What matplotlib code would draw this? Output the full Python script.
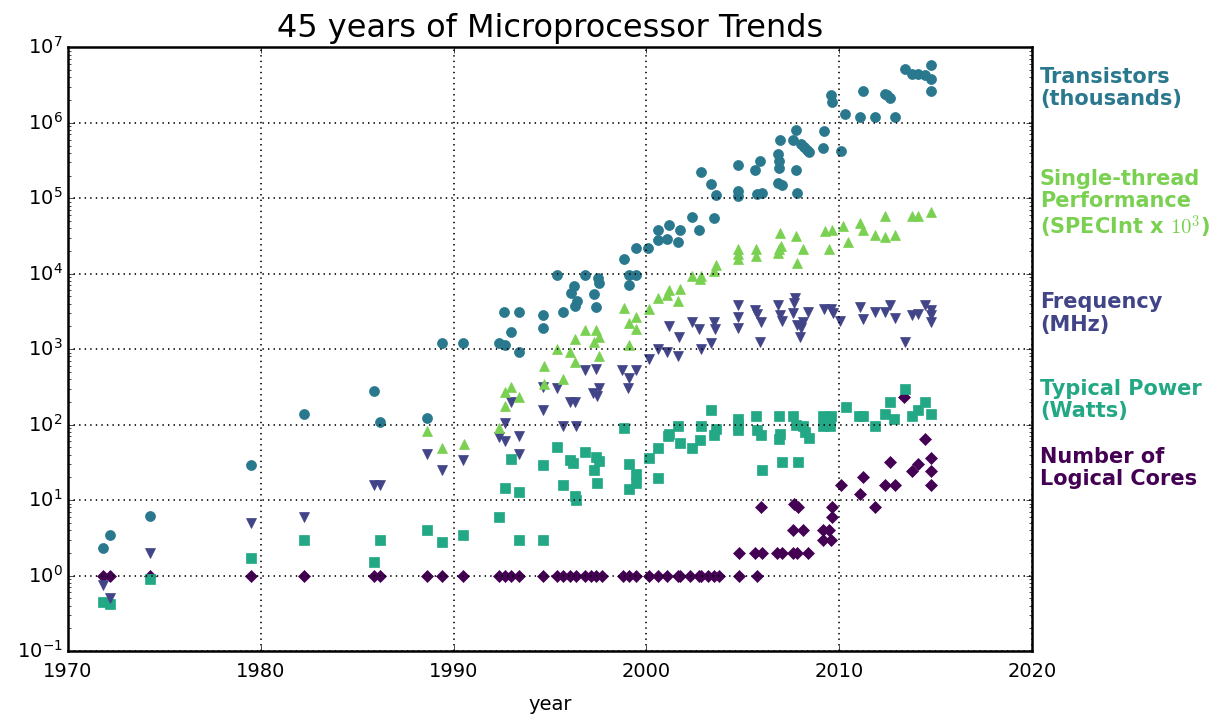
import matplotlib.pyplot as plt
import matplotlib.ticker as mticker

# (year, value)
transistors = [
    (1971.8, 2.3), (1972.2, 3.5), (1974.25, 6.1), (1979.5, 29), (1982.25, 137),
    (1985.85, 275), (1986.2, 110), (1988.6, 123), (1989.4, 1200), (1990.5, 1200),
    (1992.35, 1200), (1992.65, 1120), (1993.4, 930), (1992.6, 3100), (1993.4, 3100),
    (1993.0, 1700), (1994.65, 2800), (1994.65, 1900), (1995.65, 3100), (1995.35, 9700),
    (1996.3, 3700), (1996.27, 6800), (1996.1, 5500), (1996.4, 4400), (1996.8, 9700),
    (1997.5, 8900), (1997.55, 7500), (1997.3, 5400), (1997.4, 3600), (1998.85, 15500),
    (1999.45, 21700), (2000.1, 22000), (1999.1, 9500), (1999.45, 9500), (1999.1, 7000),
    (2000.6, 38000), (2000.6, 28000), (2001.15, 44000), (2001.05, 29000), (2001.75, 37500),
    (2001.65, 26000), (2002.35, 56000), (2002.75, 38000), (2003.5, 55000), (2002.85, 220000),
    (2003.35, 155000), (2003.6, 110000), (2004.75, 275000), (2004.75, 126000), (2004.75, 108000),
    (2005.65, 235000), (2005.9, 310000), (2005.75, 115000), (2006.0, 117000), (2006.85, 390000),
    (2006.95, 590000), (2006.9, 310000), (2006.9, 250000), (2006.85, 160000), (2007.05, 150000),
    (2007.6, 590000), (2007.75, 810000), (2007.75, 240000), (2007.8, 117000), (2008.0, 525000),
    (2008.15, 475000), (2008.35, 430000), (2008.45, 405000), (2009.2, 790000), (2009.15, 470000),
    (2009.6, 2340000), (2009.65, 1900000), (2010.1, 420000), (2010.3, 1320000), (2011.25, 2600000),
    (2011.1, 1200000), (2011.85, 1200000), (2012.35, 2400000), (2012.5, 2300000), (2012.65, 2100000),
    (2012.9, 1200000), (2013.4, 5100000), (2013.75, 4400000), (2014.1, 4400000), (2014.45, 4300000),
    (2014.75, 5900000), (2014.75, 3800000), (2014.75, 2600000),
]

single_thread = [
    (1988.6, 82), (1989.4, 49), (1990.55, 55), (1992.35, 91), (1992.65, 175),
    (1992.65, 270), (1993.0, 315), (1993.4, 235), (1994.7, 590), (1994.7, 345),
    (1995.65, 405), (1995.35, 1020), (1996.05, 930), (1996.3, 1360), (1996.3, 670),
    (1996.8, 1800), (1997.4, 1770), (1997.55, 1450), (1997.3, 1260), (1997.55, 820),
    (1998.85, 3500), (1999.1, 2250), (1999.45, 2700), (1999.45, 1850), (1999.1, 1150),
    (2000.15, 3400), (2000.6, 4800), (2001.15, 6100), (2001.05, 5300), (2001.75, 6300),
    (2001.65, 4300), (2002.35, 9400), (2002.85, 9400), (2002.8, 8500), (2003.5, 10700),
    (2003.6, 13200), (2004.75, 21000), (2004.75, 18000), (2004.75, 15800), (2005.7, 21000),
    (2005.7, 17000), (2006.95, 35000), (2007.0, 23500), (2006.9, 21000), (2006.85, 18700),
    (2007.75, 31800), (2008.1, 21000), (2007.8, 14000), (2009.25, 36500), (2009.65, 37500),
    (2009.45, 21000), (2010.2, 42500), (2010.45, 26000), (2011.1, 47000), (2011.25, 38500),
    (2011.85, 33000), (2012.35, 59000), (2012.35, 31000), (2012.9, 33000), (2013.75, 59000),
    (2014.1, 59000), (2014.75, 66000),
]

frequency = [
    (1971.8, 0.74), (1972.2, 0.5), (1974.25, 2), (1979.5, 5), (1982.25, 6),
    (1985.85, 16), (1986.2, 16), (1988.6, 41), (1989.4, 25), (1990.5, 34),
    (1992.35, 69), (1992.65, 60), (1992.65, 105), (1993.4, 70), (1993.4, 41),
    (1993.0, 200), (1994.65, 315), (1994.65, 155), (1995.35, 305), (1995.65, 95),
    (1996.35, 95), (1996.05, 200), (1996.3, 200), (1996.8, 525), (1997.4, 550),
    (1997.25, 265), (1997.45, 240), (1997.55, 310), (1998.75, 525), (1999.45, 525),
    (1999.1, 415), (1999.05, 305), (2000.15, 740), (2000.6, 1000), (2001.05, 915),
    (2001.65, 820), (2001.15, 2050), (2001.7, 1450), (2002.35, 2270), (2002.75, 1850),
    (2002.85, 1000), (2003.35, 1200), (2003.5, 2270), (2003.55, 1850), (2004.75, 3800),
    (2004.75, 2700), (2004.75, 1900), (2005.65, 3300), (2005.75, 2900), (2005.95, 2270),
    (2005.9, 1230), (2006.85, 3800), (2006.95, 2870), (2007.05, 2340), (2007.65, 4100),
    (2007.7, 4700), (2007.6, 3000), (2007.8, 2100), (2008.1, 2270), (2008.0, 1900),
    (2007.95, 1440), (2008.4, 3100), (2009.2, 3400), (2009.55, 3400), (2009.7, 3000),
    (2010.05, 2340), (2011.1, 3600), (2011.25, 2500), (2011.85, 3100), (2012.35, 3100),
    (2012.65, 3800), (2012.9, 2600), (2013.4, 1230), (2013.75, 2800), (2014.1, 2950),
    (2014.45, 3900), (2014.75, 3350), (2014.75, 2800), (2014.75, 2300),
]

power = [
    (1971.8, 0.44), (1972.2, 0.42), (1974.25, 0.9), (1979.5, 1.7), (1982.25, 3),
    (1985.85, 1.5), (1986.2, 3), (1988.6, 4), (1989.4, 2.8), (1990.5, 3.4),
    (1992.35, 5.9), (1992.65, 14.5), (1993.4, 13), (1993.0, 35), (1993.4, 3),
    (1994.65, 3), (1994.65, 29), (1995.35, 50), (1995.65, 16), (1996.05, 34),
    (1996.2, 31), (1996.3, 11.2), (1996.35, 10), (1996.8, 44), (1997.4, 37),
    (1997.55, 33), (1997.3, 25), (1997.45, 17), (1998.85, 91), (1999.1, 30.5),
    (1999.45, 22), (1999.45, 17), (1999.1, 14), (2000.15, 36), (2000.6, 49),
    (2000.6, 19.6), (2001.1, 70), (2001.15, 75), (2001.65, 97), (2001.75, 57),
    (2002.35, 49), (2002.85, 97), (2002.8, 62), (2003.35, 155), (2003.6, 88),
    (2003.5, 74), (2004.75, 117), (2004.75, 100), (2004.75, 86), (2005.7, 130),
    (2005.75, 86), (2005.95, 72), (2006.0, 25), (2006.9, 130), (2006.95, 76),
    (2006.9, 65), (2007.05, 32), (2007.6, 132), (2007.75, 100), (2008.1, 95),
    (2008.2, 81), (2008.45, 66), (2007.85, 32), (2009.15, 132), (2009.6, 132),
    (2009.15, 95), (2009.5, 95), (2010.35, 170), (2011.05, 132), (2011.25, 129),
    (2011.85, 95), (2012.35, 138), (2012.65, 200), (2012.85, 117), (2013.4, 300),
    (2013.75, 129), (2014.1, 155), (2014.45, 200), (2014.75, 138),
]

single_core_years = [
    1971.8, 1972.2, 1974.25, 1979.5, 1982.25, 1985.85, 1986.2, 1988.6, 1989.4, 1990.5,
    1992.35, 1992.65, 1993.0, 1993.4, 1994.65, 1995.35, 1995.65, 1996.05, 1996.35, 1996.8,
    1997.1, 1997.4, 1997.7, 1998.8, 1999.1, 1999.45, 2000.15, 2000.6, 2001.05, 2001.65,
    2001.75, 2002.25, 2002.75, 2002.85, 2003.2, 2003.5, 2003.75, 2004.8, 2005.75,
]
multi_cores = [
    (2004.8, 2), (2005.65, 2), (2006.0, 2), (2006.75, 2), (2007.05, 2), (2007.6, 2),
    (2007.8, 2), (2008.4, 2), (2007.6, 4), (2008.1, 4), (2009.15, 4), (2009.45, 4),
    (2009.15, 3), (2009.55, 3), (2005.95, 8), (2007.65, 9), (2007.85, 8), (2009.65, 8),
    (2009.65, 6), (2010.1, 16), (2011.1, 12), (2011.25, 20), (2011.85, 8), (2012.35, 16),
    (2012.9, 16), (2012.65, 32), (2013.35, 235), (2013.75, 24), (2014.1, 30),
    (2014.45, 65), (2014.75, 36), (2014.75, 24), (2014.75, 16),
]
cores = [(y, 1) for y in single_core_years] + multi_cores

plt.style.use("classic")
plt.rcParams["figure.facecolor"] = "white"
plt.rcParams["font.family"] = ["DejaVu Sans"]

fig = plt.figure(figsize=(12.19, 7.17), dpi=100)
ax = fig.add_axes([0.0558, 0.092, 0.7908, 0.842])

c_tr = "#2a788e"
c_st = "#7ad151"
c_fr = "#414487"
c_pw = "#22a884"
c_co = "#440154"

series = [
    (cores, "D", 6.5, c_co),
    (power, "s", 7, c_pw),
    (frequency, "v", 7.5, c_fr),
    (single_thread, "^", 7.5, c_st),
    (transistors, "o", 7.2, c_tr),
]
for data, marker, size, color in series:
    xs = [d[0] for d in data]
    ys = [d[1] for d in data]
    ax.plot(xs, ys, linestyle="none", marker=marker, markersize=size,
            color=color, markeredgecolor=color)

ax.set_yscale("log")
ax.set_xlim(1970, 2020)
ax.set_ylim(1e-1, 1e7)
ax.set_xticks(range(1970, 2021, 10))
ax.xaxis.set_major_formatter(mticker.FormatStrFormatter("%d"))
ax.yaxis.set_major_locator(mticker.LogLocator(base=10, numticks=10))
ax.grid(True, which="major", linestyle=":", color="black", linewidth=1.2)
ax.tick_params(labelsize=14)
ax.tick_params(axis="x", pad=8)
for sp in ax.spines.values():
    sp.set_linewidth(1.8)

ax.set_title("45 years of Microprocessor Trends", fontsize=23, y=1.005)
ax.set_xlabel("year", fontsize=14, labelpad=10)

labels = [
    ("Transistors\n(thousands)", 0.877, c_tr),
    ("Single-thread\nPerformance\n(SPECInt x $10^3$)", 0.714, c_st),
    ("Frequency\n(MHz)", 0.563, c_fr),
    ("Typical Power\n(Watts)", 0.442, c_pw),
    ("Number of\nLogical Cores", 0.347, c_co),
]
for txt, y, color in labels:
    fig.text(0.853, y, txt, color=color, fontsize=15, fontweight="bold",
             ha="left", va="center", linespacing=1.15)

fig.savefig("out.png", dpi=100)
